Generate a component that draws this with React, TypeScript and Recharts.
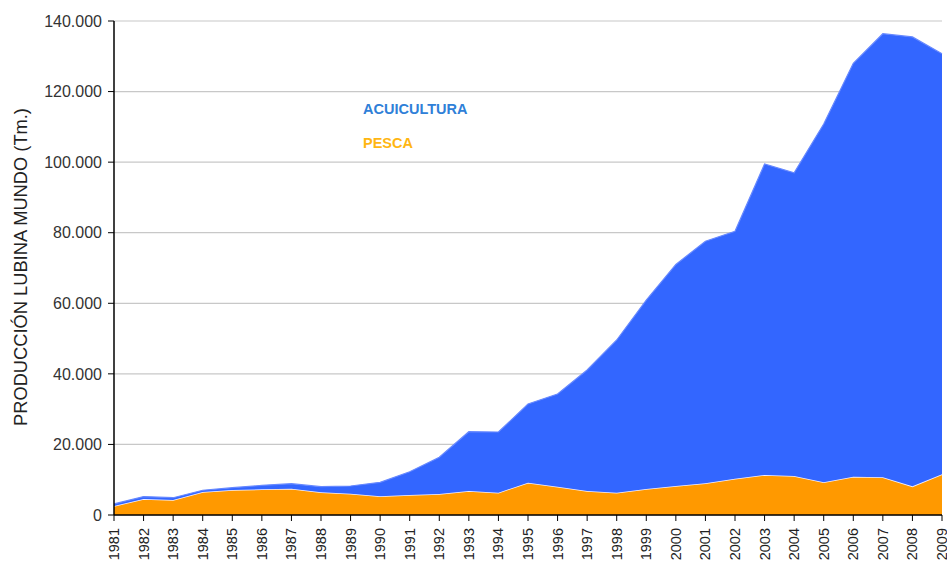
import React from "react";
import { AreaChart, Area, XAxis, YAxis, CartesianGrid } from "recharts";

const years = [
  "1981", "1982", "1983", "1984", "1985", "1986", "1987", "1988", "1989", "1990",
  "1991", "1992", "1993", "1994", "1995", "1996", "1997", "1998", "1999", "2000",
  "2001", "2002", "2003", "2004", "2005", "2006", "2007", "2008", "2009",
];

const pesca = [
  2550, 4530, 4250, 6520, 7080, 7270, 7460, 6430, 6040, 5290,
  5670, 5950, 6800, 6320, 9150, 8020, 6800, 6320, 7370, 8220,
  8980, 10290, 11340, 11050, 9260, 10860, 10670, 8120, 11530,
];

const acuicultura = [
  600, 700, 650, 500, 660, 1130, 1410, 1590, 2180, 3970,
  6600, 10400, 16800, 17200, 22300, 26280, 34300, 43280, 53530, 62780,
  68620, 70110, 88160, 85950, 101540, 117140, 125730, 127380, 119170,
];

const yTicks = [0, 20000, 40000, 60000, 80000, 100000, 120000, 140000];

const yAxisTitle = "PRODUCCIÓN LUBINA MUNDO (Tm.)";
const seriesNames = { acuicultura: "ACUICULTURA", pesca: "PESCA" };

const data = years.map((y, i) => ({
  year: y,
  pesca: pesca[i],
  acuicultura: acuicultura[i],
}));

const fmt = (v: number) =>
  String(v).replace(/\B(?=(\d{3})+(?!\d))/g, ".");

const FONT = "'Liberation Sans', Arial, sans-serif";

const XTick = (props: any) => {
  const { x, y, payload } = props;
  const ty = y + 5;
  return (
    <text
      x={x}
      y={ty}
      transform={`rotate(-90, ${x}, ${ty})`}
      textAnchor="end"
      dy="0.35em"
      fontSize={14.5}
      fontFamily={FONT}
      fill="#222"
    >
      {payload.value}
    </text>
  );
};

const YLabel = (props: any) => {
  const vb = props.viewBox || { x: 0, y: 21, width: 114, height: 494 };
  const cx = 20;
  const cy = vb.y + vb.height / 2 - 1;
  return (
    <text
      x={cx}
      y={cy}
      transform={`rotate(-90, ${cx}, ${cy})`}
      textAnchor="middle"
      dominantBaseline="central"
      fontSize={18.3}
      fontFamily={FONT}
      fill="#222"
    >
      {yAxisTitle}
    </text>
  );
};

export default function App() {
  return (
    <div style={{ position: "absolute", left: 0, top: 0, width: 947, height: 561, background: "#fff" }}>
      <AreaChart
        width={947}
        height={561}
        data={data}
        margin={{ top: 21, right: 5, bottom: 0, left: 0 }}
      >
        <CartesianGrid vertical={false} stroke="#c8c8c8" strokeWidth={1.2} />
        <XAxis
          dataKey="year"
          height={46}
          interval={0}
          tick={<XTick />}
          tickSize={6}
          axisLine={{ stroke: "#000", strokeWidth: 1.5 }}
          tickLine={{ stroke: "#000" }}
        />
        <YAxis
          width={114}
          domain={[0, 140000]}
          ticks={yTicks}
          tickFormatter={fmt}
          tickSize={6}
          tickMargin={6}
          tick={{ fontSize: 16, fontFamily: FONT, fill: "#333" }}
          axisLine={{ stroke: "#000", strokeWidth: 1.5 }}
          tickLine={{ stroke: "#000" }}
          label={<YLabel />}
        />
        <Area
          type="linear"
          dataKey="pesca"
          stackId="a"
          name={seriesNames.pesca}
          fill="#ff9900"
          fillOpacity={1}
          stroke="#f4f0ff"
          strokeWidth={1.5}
          isAnimationActive={false}
        />
        <Area
          type="linear"
          dataKey="acuicultura"
          stackId="a"
          name={seriesNames.acuicultura}
          fill="#3366ff"
          fillOpacity={1}
          stroke="#6688ff"
          strokeWidth={1.2}
          isAnimationActive={false}
        />
      </AreaChart>
      <div
        style={{
          position: "absolute",
          left: 363,
          top: 100,
          fontFamily: FONT,
          fontWeight: "bold",
          fontSize: 14.5,
          color: "#2f80d8",
          lineHeight: "18px",
        }}
      >
        {seriesNames.acuicultura}
      </div>
      <div
        style={{
          position: "absolute",
          left: 363,
          top: 134,
          fontFamily: FONT,
          fontWeight: "bold",
          fontSize: 14.5,
          color: "#ffb612",
          lineHeight: "18px",
        }}
      >
        {seriesNames.pesca}
      </div>
    </div>
  );
}
